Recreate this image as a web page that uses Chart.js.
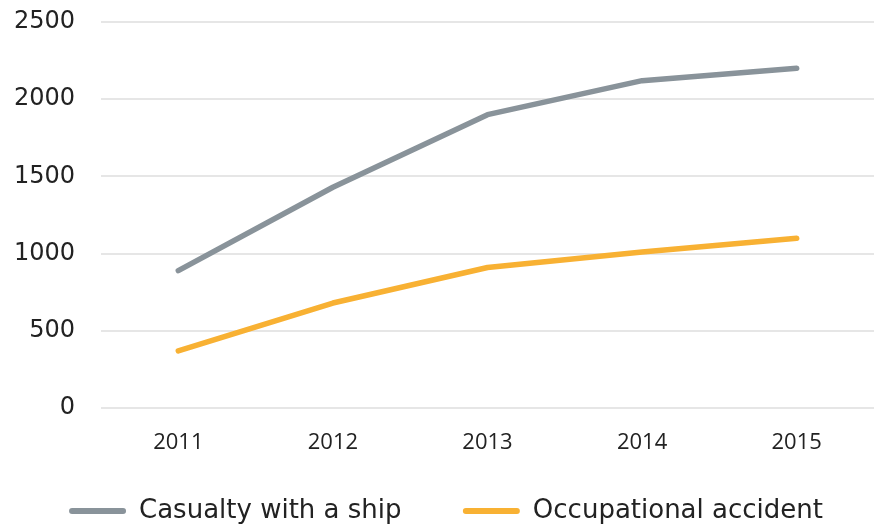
<!DOCTYPE html>
<html>
<head>
<meta charset="utf-8">
<script src="https://cdn.jsdelivr.net/npm/chart.js@4"></script>
<style>
  html, body { margin: 0; padding: 0; background: #fff; }
  #wrap { width: 874px; height: 525px; }
</style>
</head>
<body>
<div id="wrap"><canvas id="myChart" width="874" height="525"></canvas></div>
<script>
// chart data
var years = ['2011', '2012', '2013', '2014', '2015']
var casualty = [890, 1430, 1900, 2120, 2200]
var occupational = [370, 680, 910, 1010, 1100]
var yTicks = [0, 500, 1000, 1500, 2000, 2500]

var grey = '#89939a'
var orange = '#f8b133'

var ctx = document.getElementById('myChart').getContext('2d')
var myLineChart = new Chart(ctx, {
  type: 'line',
  data: {
    labels: years,
    datasets: [{
      label: 'Casualty with a ship',
      data: casualty,
      borderColor: grey,
      backgroundColor: grey,
      borderWidth: 5.5,
      borderCapStyle: 'round',
      borderJoinStyle: 'round',
      pointRadius: 0,
      tension: 0
    }, {
      label: 'Occupational accident',
      data: occupational,
      borderColor: orange,
      backgroundColor: orange,
      borderWidth: 5.5,
      borderCapStyle: 'round',
      borderJoinStyle: 'round',
      pointRadius: 0,
      tension: 0
    }]
  },
  options: {
    responsive: false,
    animation: false,
    layout: {
      autoPadding: false,
      padding: { left: 12, top: 22, right: -6, bottom: -9 }
    },
    plugins: {
      tooltip: { enabled: false },
      legend: {
        position: 'bottom',
        labels: {
          color: '#222',
          font: { family: 'DejaVu Sans', size: 26 },
          boxWidth: 57,
          boxHeight: 6,
          useBorderRadius: true,
          borderRadius: 3,
          padding: 20,
          generateLabels: function(chart) {
            var items = Chart.defaults.plugins.legend.labels.generateLabels(chart)
            items.forEach(function(it, i) {
              it.lineWidth = 0
              // extra room between the two legend entries
              if (i === 0) it.text = it.text + '\u00a0\u00a0\u00a0\u00a0\u00a0'
            })
            return items
          }
        }
      }
    },
    scales: {
      x: {
        offset: true,
        grid: { display: false },
        border: { display: false },
        afterFit: function(scale) { scale.height += 7.6 },
        ticks: {
          color: '#222',
          font: { family: 'Open Sans', size: 22 },
          padding: 14
        }
      },
      y: {
        min: 0,
        max: 2500,
        afterBuildTicks: function(axis) {
          axis.ticks = yTicks.map(function(v) { return { value: v } })
        },
        afterFit: function(scale) {
          scale.width = 89
          // tick padding would otherwise push the plot top down
          scale.paddingTop = 0
          scale.paddingBottom = 0
        },
        grid: { color: '#e6e6e6', lineWidth: 2, drawTicks: false },
        border: { display: false },
        ticks: {
          color: '#222',
          font: { family: 'DejaVu Sans', size: 24 },
          padding: 26,
          callback: function(v) { return String(v) }
        }
      }
    }
  }
})
</script>
</body>
</html>
